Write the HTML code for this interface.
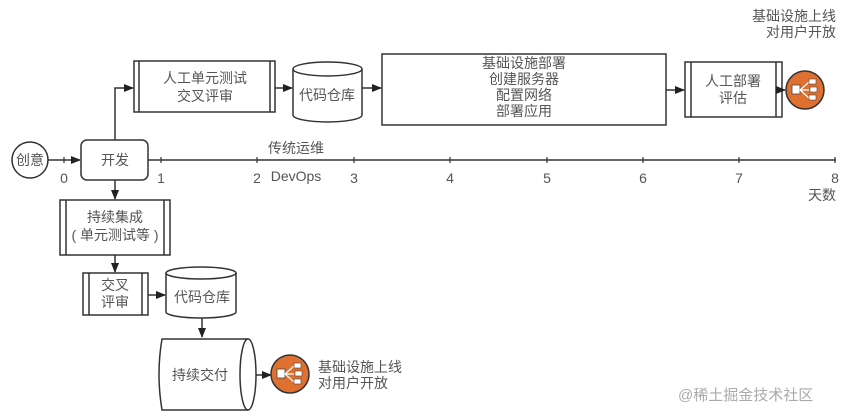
<!DOCTYPE html>
<html><head><meta charset="utf-8"><style>
html,body{margin:0;padding:0;background:#fff;}
svg{display:block;}
text{font-family:"Liberation Sans","Noto Sans CJK SC",sans-serif;fill:#555;font-size:14px;}
</style></head><body>
<svg width="853" height="417" viewBox="0 0 853 417" xmlns="http://www.w3.org/2000/svg">
<defs>
<marker id="a" markerWidth="10" markerHeight="8" refX="9" refY="4" orient="auto" markerUnits="userSpaceOnUse">
<path d="M0,0 L10,4 L0,8 z" fill="#222"/></marker>
<g id="icon">
<circle r="19" fill="#e0702f" stroke="#333" stroke-width="1.5"/>
<rect x="-13" y="-5" width="8" height="9" fill="#fff" stroke="#444" stroke-width="0.8"/>
<path d="M-5,0 L4,-8 M-5,0 L4,0 M-5,0 L4,8" stroke="#fff" stroke-width="1.2"/>
<rect x="4" y="-11" width="7" height="5" fill="#fff" stroke="#444" stroke-width="0.6"/>
<rect x="5" y="-3" width="7" height="5" fill="#fff" stroke="#444" stroke-width="0.6"/>
<rect x="4" y="5" width="7" height="5" fill="#fff" stroke="#444" stroke-width="0.6"/>
</g>
</defs>
<g stroke="#333" stroke-width="1.5" fill="none">
<line x1="148" y1="160" x2="836" y2="160"/>
<path d="M64,157v6 M161,157v6 M257,157v6 M354,157v6 M450,157v6 M547,157v6 M643,157v6 M739,157v6 M835,157v6" stroke-width="1.2"/>
<circle cx="30" cy="160" r="18" fill="#fff"/>
<line x1="48" y1="160" x2="80" y2="160" marker-end="url(#a)"/>
<rect x="81" y="140" width="67" height="40" rx="6" fill="#fff"/>
<polyline points="115,140 115,88 133,88" marker-end="url(#a)"/>
<rect x="134" y="61" width="141" height="51"/>
<line x1="139" y1="61" x2="139" y2="112"/><line x1="270" y1="61" x2="270" y2="112"/>
<line x1="275" y1="88" x2="292" y2="88" marker-end="url(#a)"/>
<path d="M293,69 V115 A34.5,7 0 0 0 362,115 V69"/>
<ellipse cx="327.5" cy="69" rx="34.5" ry="7"/>
<line x1="362" y1="88" x2="381" y2="88" marker-end="url(#a)"/>
<rect x="382" y="54" width="284" height="71"/>
<line x1="666" y1="90" x2="684" y2="90" marker-end="url(#a)"/>
<rect x="685" y="62" width="97" height="55"/>
<line x1="691" y1="62" x2="691" y2="117"/><line x1="776" y1="62" x2="776" y2="117"/>
<line x1="782" y1="90" x2="785" y2="90" marker-end="url(#a)"/>
<line x1="115" y1="180" x2="115" y2="199" marker-end="url(#a)"/>
<rect x="60" y="200" width="110" height="55"/>
<line x1="66" y1="200" x2="66" y2="255"/><line x1="164" y1="200" x2="164" y2="255"/>
<line x1="115" y1="255" x2="115" y2="272" marker-end="url(#a)"/>
<rect x="83" y="273" width="65" height="42"/>
<line x1="89" y1="273" x2="89" y2="315"/><line x1="142" y1="273" x2="142" y2="315"/>
<line x1="148" y1="295" x2="165" y2="295" marker-end="url(#a)"/>
<path d="M166,273 V312 A35,6 0 0 0 236,312 V273"/>
<ellipse cx="201" cy="273" rx="35" ry="6"/>
<line x1="202" y1="318" x2="202" y2="337" marker-end="url(#a)"/>
<path d="M248,339 H162 Q156,374 162,410 H248"/>
<ellipse cx="248" cy="374.5" rx="8" ry="35.5"/>
<line x1="256" y1="375" x2="271" y2="375" marker-end="url(#a)"/>
</g>
<use href="#icon" x="805" y="90"/>
<use href="#icon" x="290" y="374"/>
<g text-anchor="middle">
<text x="30" y="165">创意</text>
<text x="115" y="165">开发</text>
<text x="205" y="83">人工单元测试</text>
<text x="205" y="101">交叉评审</text>
<text x="327" y="100">代码仓库</text>
<text x="524" y="68">基础设施部署</text>
<text x="524" y="84">创建服务器</text>
<text x="524" y="100">配置网络</text>
<text x="524" y="116">部署应用</text>
<text x="733" y="86">人工部署</text>
<text x="733" y="103">评估</text>
<text x="115" y="222">持续集成</text>
<text x="115" y="240">( 单元测试等 )</text>
<text x="115" y="290">交叉</text>
<text x="115" y="307">评审</text>
<text x="202" y="302">代码仓库</text>
<text x="200" y="380">持续交付</text>
<text x="296" y="153">传统运维</text>
<text x="296" y="181">DevOps</text>
<text x="64" y="183">0</text><text x="161" y="183">1</text><text x="257" y="183">2</text>
<text x="354" y="183">3</text><text x="450" y="183">4</text><text x="547" y="183">5</text>
<text x="643" y="183">6</text><text x="739" y="183">7</text><text x="835" y="183">8</text>
</g>
<g text-anchor="end">
<text x="836" y="21">基础设施上线</text>
<text x="836" y="37">对用户开放</text>
<text x="836" y="200">天数</text>
</g>
<text x="318" y="372">基础设施上线</text>
<text x="318" y="388">对用户开放</text>
<text x="678" y="400" style="fill:#aaa;font-size:15px">@稀土掘金技术社区</text>
</svg>
</body></html>
